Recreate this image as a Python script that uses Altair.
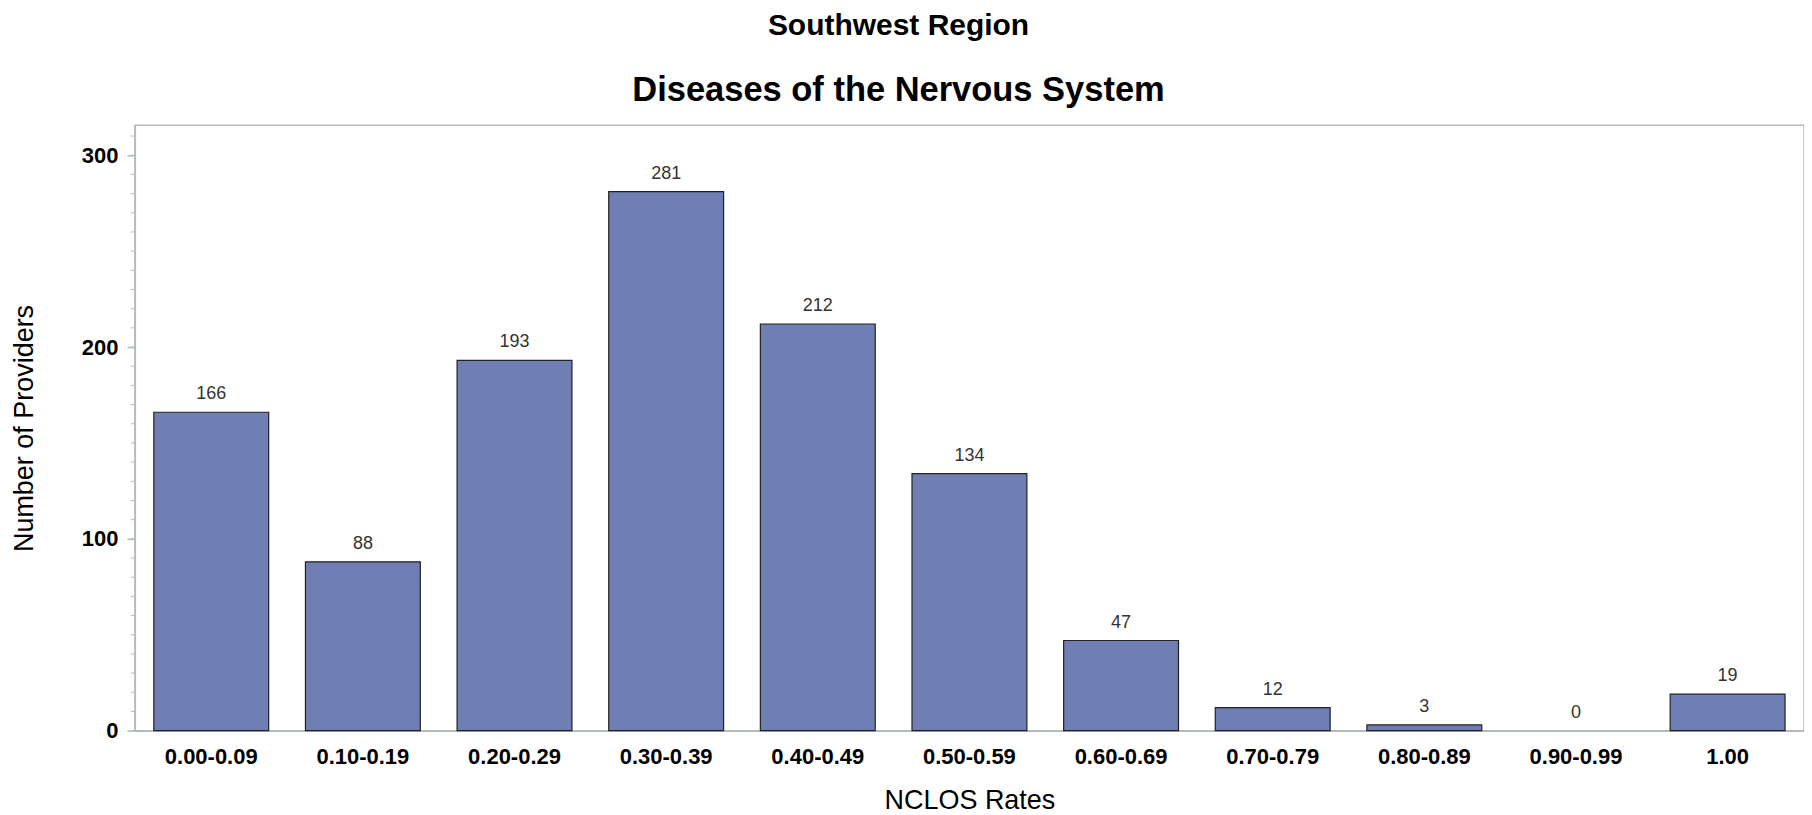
import altair as alt
import pandas as pd

categories = ["0.00-0.09", "0.10-0.19", "0.20-0.29", "0.30-0.39", "0.40-0.49",
              "0.50-0.59", "0.60-0.69", "0.70-0.79", "0.80-0.89", "0.90-0.99", "1.00"]
providers = [166, 88, 193, 281, 212, 134, 47, 12, 3, 0, 19]
minor_ticks = list(range(0, 320, 10))

df = pd.DataFrame({"rate": categories, "n": providers})
ticks_df = pd.DataFrame({"v": minor_ticks})

GRAY = "#b4bbbf"
FONT = "Liberation Sans"

xenc = alt.X("rate:N", sort=categories,
             scale=alt.Scale(paddingInner=0.2425, paddingOuter=0.125),
             axis=alt.Axis(title="NCLOS Rates", labelAngle=0, ticks=False,
                           labelPadding=16, titlePadding=20,
                           labelFont=FONT, labelFontSize=22, labelFontWeight="bold",
                           labelColor="#000", titleFont=FONT, titleFontSize=27,
                           titleFontWeight="normal", titleColor="#000",
                           domainColor=GRAY, domainWidth=1.5))
yscale = alt.Scale(domain=[0, 315.6], nice=False)
yenc = alt.Y("n:Q", scale=yscale,
             axis=alt.Axis(title="Number of Providers", values=[0, 100, 200, 300],
                           grid=False, tickSize=8, tickColor=GRAY, tickWidth=1.5,
                           labelPadding=9, titlePadding=43,
                           labelFont=FONT, labelFontSize=22, labelFontWeight="bold",
                           labelColor="#000", titleFont=FONT, titleFontSize=27,
                           titleFontWeight="normal", titleColor="#000",
                           domainColor=GRAY, domainWidth=1.5))

bars = alt.Chart(df).mark_bar(color="#6f7eb3", stroke="#222222", strokeWidth=1.2).encode(
    x=xenc, y=yenc,
    strokeOpacity=alt.condition("datum.n > 0", alt.value(1), alt.value(0)))

labels = alt.Chart(df).mark_text(baseline="alphabetic", dy=-13, font=FONT,
                                 fontSize=18, color="#333333").encode(
    x=alt.X("rate:N", sort=categories), y=alt.Y("n:Q"), text="n:Q")

minor = alt.Chart(ticks_df).mark_rule(color=GRAY, strokeWidth=1).encode(
    y=alt.Y("v:Q", scale=yscale), x=alt.value(-4), x2=alt.value(0))

chart = alt.layer(minor, bars, labels).properties(
    width=1671, height=606,
    autosize=alt.AutoSizeParams(type="none"),
    padding={"left": 127, "top": 117, "right": 0, "bottom": 84},
    title=alt.TitleParams(
        text="Southwest Region",
        subtitle="Diseases of the Nervous System",
        font=FONT, fontSize=30, fontWeight="bold", color="#000",
        subtitleFont=FONT, subtitleFontSize=34.5, subtitleFontWeight="bold",
        subtitleColor="#000", subtitlePadding=33, offset=18, anchor="middle", dx=-71),
).configure_view(stroke=GRAY, strokeWidth=1.5)

chart.save("out.html", embed_options={"renderer": "svg", "actions": False})
